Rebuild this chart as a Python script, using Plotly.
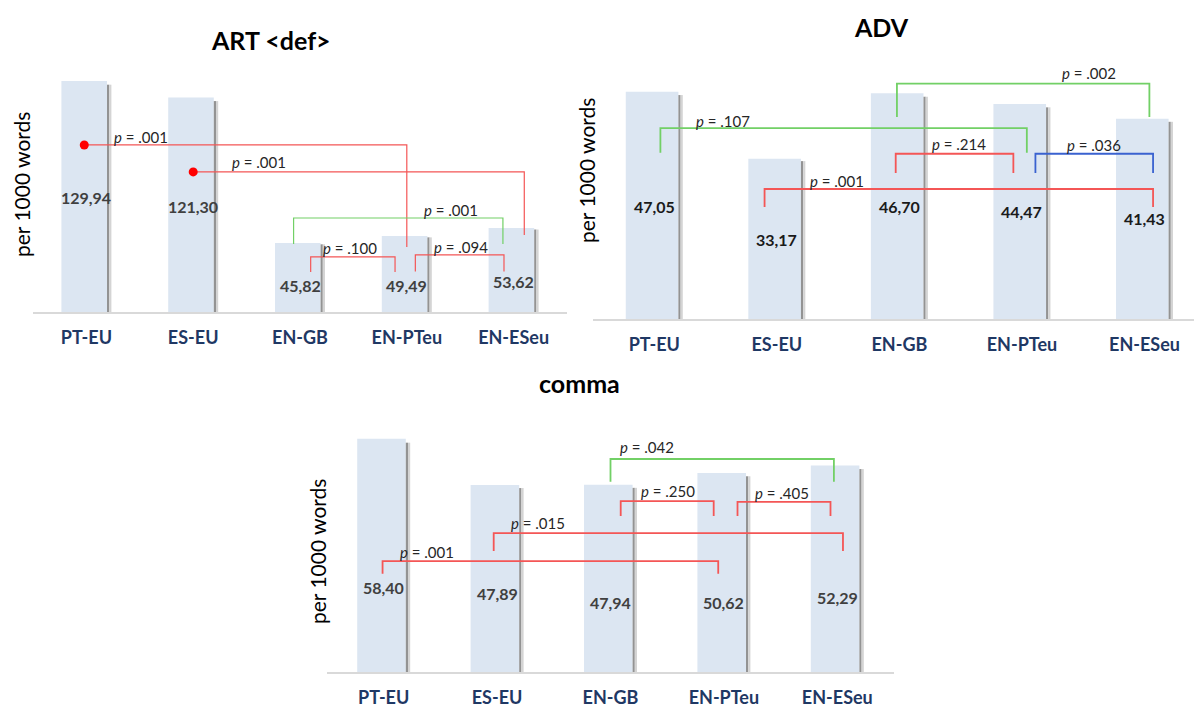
import plotly.graph_objects as go

# ---------------- data ----------------
categories = ["PT-EU", "ES-EU", "EN-GB", "EN-PTeu", "EN-ESeu"]
art_values = [129.94, 121.30, 45.82, 49.49, 53.62]
adv_values = [47.05, 33.17, 46.70, 44.47, 41.43]
comma_values = [58.40, 47.89, 47.94, 50.62, 52.29]

# comparisons: (group a, group b, p value label, colour key)
art_pairs = [(0, 3, ".001", "red"), (1, 4, ".001", "red"), (2, 4, ".001", "green"),
             (2, 3, ".100", "red"), (3, 4, ".094", "red")]
adv_pairs = [(0, 3, ".107", "green"), (2, 4, ".002", "green"), (2, 3, ".214", "red"),
             (3, 4, ".036", "blue"), (1, 4, ".001", "red")]
comma_pairs = [(2, 4, ".042", "green"), (2, 3, ".250", "red"), (3, 4, ".405", "red"),
               (1, 4, ".015", "red"), (0, 3, ".001", "red")]

# ---------------- layout / geometry (positions, not data) ----------------
# bracket geometry: (x left, x right, y left end, y top, y right end, label x, label y)
art_geom = [(-0.02, 3.00, None, 96.7, 43.7, 0.51, 100.9),
            (1.00, 4.10, None, 82.7, 50.0, 1.62, 87.9),
            (1.94, 3.90, 45.3, 58.8, 45.3, 3.41, 63.0),
            (2.10, 2.89, 30.8, 38.6, 30.8, 2.47, 43.2),
            (3.08, 3.91, 31.0, 39.6, 31.0, 3.51, 43.7)]
adv_geom = [(0.05, 3.04, 34.4, 39.5, 34.4, 0.56, 41.0),
            (1.98, 4.04, 41.8, 48.7, 41.8, 3.55, 50.9),
            (1.97, 2.93, 30.2, 34.2, 30.2, 2.49, 36.2),
            (3.11, 4.07, 30.2, 34.2, 30.2, 3.59, 36.0),
            (0.90, 4.07, 23.2, 26.9, 23.2, 1.49, 28.6)]
comma_geom = [(2.00, 3.97, 48.6, 53.8, 48.6, 2.32, 56.6),
              (2.09, 2.91, 40.8, 44.2, 40.8, 2.51, 46.5),
              (3.12, 3.94, 40.8, 44.0, 40.8, 3.51, 46.1),
              (0.97, 4.05, 32.8, 36.9, 32.8, 1.36, 39.2),
              (-0.01, 2.95, 27.6, 30.5, 27.6, 0.38, 32.6)]

art_label_y = [69.2, 65.0, 24.0, 23.5, 25.6]
adv_label_y = [23.2, 16.4, 23.2, 22.2, 20.7]
comma_label_y = [24.4, 23.0, 21.0, 21.0, 22.3]

W, H = 1194, 707
FONT = "Lato, 'Open Sans', sans-serif"
BAR = "#dce6f2"
NAVY = "#1f3864"
COLORS = {"red": "#f45656", "green": "#72d066", "blue": "#3a62d0"}

panels = [
    dict(values=art_values, pairs=art_pairs, geom=art_geom, label_y=art_label_y, ax="",
         xdom=(33, 567), ydom=(60, 312), yr=(10, 140.8), xr=(-0.5, 4.5), ppc=106.8, bar_px=50,
         title="ART &lt;def&gt;", tpos=(271, 40), ytpos=(21, 185), vcol="#404040", lw=1.2),
    dict(values=adv_values, pairs=adv_pairs, geom=adv_geom, label_y=adv_label_y, ax="2",
         xdom=(593, 1194), ydom=(60, 319), yr=(0, 53.6), xr=(-0.5, 4.404), ppc=122.5, bar_px=57,
         title="ADV", tpos=(881, 27), ytpos=(586, 171), vcol="#1a1a1a", lw=1.8),
    dict(values=comma_values, pairs=comma_pairs, geom=comma_geom, label_y=comma_label_y, ax="3",
         xdom=(327, 894), ydom=(420, 672), yr=(5.2, 62.7), xr=(-0.5, 4.5), ppc=113.4, bar_px=53,
         title="comma", tpos=(579, 383), ytpos=(317, 552), vcol="#404040", lw=1.8),
]

fig = go.Figure()
annotations = []
idx = list(range(len(categories)))

for p in panels:
    xa, ya = "x" + p["ax"], "y" + p["ax"]
    ppc = p["ppc"]
    fw = p["bar_px"] / ppc
    s1 = 2.2 / ppc
    s2 = 2.2 / ppc
    light_w = fw - s1 - s2
    fig.add_trace(go.Bar(x=idx, y=p["values"], width=[light_w] * 5, offset=[-fw / 2] * 5,
                         marker=dict(color=BAR, line=dict(width=0)), xaxis=xa, yaxis=ya,
                         showlegend=False, hoverinfo="skip"))
    fig.add_trace(go.Bar(x=idx, y=[v * 0.985 for v in p["values"]], width=[s1] * 5,
                         offset=[-fw / 2 + light_w] * 5,
                         marker=dict(color="#939393", line=dict(width=0)), xaxis=xa, yaxis=ya,
                         showlegend=False, hoverinfo="skip"))
    fig.add_trace(go.Bar(x=idx, y=[v * 0.985 for v in p["values"]], width=[s2] * 5,
                         offset=[-fw / 2 + light_w + s1] * 5,
                         marker=dict(color="#d4d4d4", line=dict(width=0)), xaxis=xa, yaxis=ya,
                         showlegend=False, hoverinfo="skip"))

    # value labels
    for i, v in enumerate(p["values"]):
        annotations.append(dict(x=i, y=p["label_y"][i], xref=xa, yref=ya,
                                text="<b>" + f"{v:.2f}".replace(".", ",") + "</b>", showarrow=False,
                                font=dict(family=FONT, size=16, color=p["vcol"]),
                                xanchor="center", yanchor="middle"))

    # brackets
    for (a, b, pv, ck), (x1, x2, y1, yt, y2, lx, ly) in zip(p["pairs"], p["geom"]):
        col = COLORS[ck]
        if y1 is None:
            fig.add_trace(go.Scatter(x=[x1, x2, x2], y=[yt, yt, y2], mode="lines",
                                     line=dict(color=col, width=p["lw"]), xaxis=xa, yaxis=ya,
                                     showlegend=False, hoverinfo="skip"))
            fig.add_trace(go.Scatter(x=[x1], y=[yt], mode="markers",
                                     marker=dict(color="#ff0000", size=9), xaxis=xa, yaxis=ya,
                                     showlegend=False, hoverinfo="skip"))
        else:
            fig.add_trace(go.Scatter(x=[x1, x1, x2, x2], y=[y1, yt, yt, y2], mode="lines",
                                     line=dict(color=col, width=p["lw"]), xaxis=xa, yaxis=ya,
                                     showlegend=False, hoverinfo="skip"))
        annotations.append(dict(x=lx, y=ly, xref=xa, yref=ya, text=f"<i>p</i> = {pv}",
                                showarrow=False, font=dict(family=FONT, size=15, color="#262626"),
                                xanchor="center", yanchor="middle"))

    # title
    annotations.append(dict(x=p["tpos"][0] / W, y=1 - p["tpos"][1] / H, xref="paper", yref="paper",
                            text=f"<b>{p['title']}</b>", showarrow=False,
                            font=dict(family=FONT, size=25, color="#000000"),
                            xanchor="center", yanchor="middle"))
    # y title
    annotations.append(dict(x=p["ytpos"][0] / W, y=1 - p["ytpos"][1] / H, xref="paper", yref="paper",
                            text="per 1000 words", textangle=-90, showarrow=False,
                            font=dict(family=FONT, size=21, color="#000000"),
                            xanchor="center", yanchor="middle"))

    axkey = "xaxis" + p["ax"]
    aykey = "yaxis" + p["ax"]
    fig.layout[axkey] = dict(domain=[p["xdom"][0] / W, p["xdom"][1] / W], range=list(p["xr"]),
                             anchor=ya, tickvals=idx, ticktext=[f"<b>{c}</b>" for c in categories],
                             tickfont=dict(family=FONT, size=18, color=NAVY), ticks="",
                             showline=True, linecolor="#d9d9d9", linewidth=2, showgrid=False,
                             zeroline=False, fixedrange=True, ticklabelstandoff=8)
    fig.layout[aykey] = dict(domain=[1 - p["ydom"][1] / H, 1 - p["ydom"][0] / H], range=list(p["yr"]),
                             anchor=xa, visible=False, showgrid=False, zeroline=False, fixedrange=True)

fig.update_layout(width=W, height=H, margin=dict(l=0, r=0, t=0, b=0), barmode="overlay",
                  plot_bgcolor="white", paper_bgcolor="white", annotations=annotations,
                  showlegend=False)

fig.write_html("out.html", config={"displayModeBar": False},
               post_script="document.body.style.margin='0';document.body.style.padding='0';"
                           "document.documentElement.style.overflow='hidden';")
